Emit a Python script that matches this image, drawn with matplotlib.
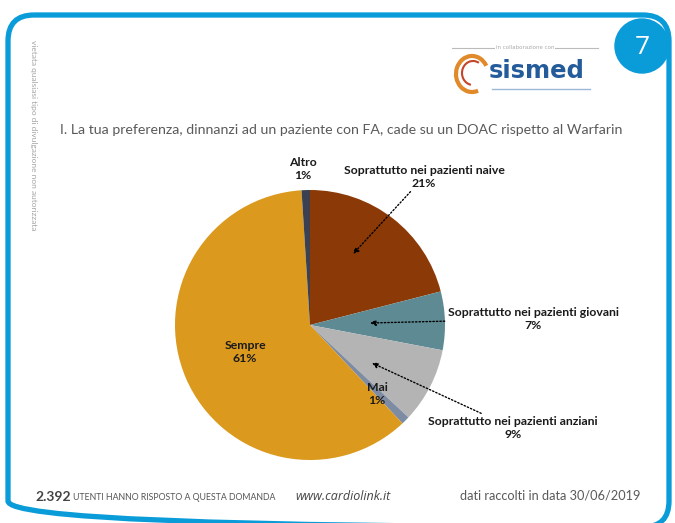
import numpy as np
import matplotlib.pyplot as plt
from matplotlib.patches import FancyBboxPatch, Circle, Arc

# survey answers, clockwise from 12 o'clock
labels = ["Soprattutto nei pazienti naive", "Soprattutto nei pazienti giovani",
          "Soprattutto nei pazienti anziani", "Mai", "Sempre", "Altro"]
values = [21, 7, 9, 1, 61, 1]
colors = ["#8B3907", "#5E8A93", "#B4B4B4", "#7D8CA3", "#DB991D", "#3B4150"]

W, H = 675, 523
fig = plt.figure(figsize=(W / 100, H / 100), dpi=100)
bg = fig.add_axes([0, 0, 1, 1])
bg.set_xlim(0, W)
bg.set_ylim(H, 0)
bg.axis("off")

blue = "#0A9BD9"
# slide frame
frame = FancyBboxPatch((8, 15), 661, 512, boxstyle="round,pad=0,rounding_size=26",
                       fill=False, ec=blue, lw=3.8)
bg.add_patch(frame)
bg.add_patch(Circle((642, 46), 27, color=blue, zorder=3))
bg.text(642, 47, "7", color="white", fontsize=19, ha="center", va="center",
        family="Open Sans", zorder=4)

# vertical disclaimer
bg.text(33, 40, "vietata qualsiasi tipo di divulgazione non autorizzata", rotation=-90,
        fontsize=6, color="#a5a5a5", ha="center", va="top", family="Lato")

# sismed logo
bg.plot([452, 598], [48, 48], color="#bbbbbb", lw=0.8)
bg.text(525, 47.5, "in collaborazione con", fontsize=4, color="#aaaaaa", ha="center",
        va="center", family="DejaVu Sans", bbox=dict(fc="white", ec="none", pad=0.3))
bg.add_patch(Arc((472, 74), 32, 36, theta1=70, theta2=330, color="#E08A2A", lw=3))
bg.add_patch(Arc((473, 73), 22, 24, theta1=100, theta2=300, color="#C4452A", lw=1.5))
bg.text(489, 71, "sismed", fontsize=17.5, fontweight="bold", color="#245B9A",
        ha="left", va="center", family="DejaVu Sans")
bg.plot([492, 590], [89, 89], color="#9DB8D6", lw=1)

# question
bg.text(60, 130, "I. La tua preferenza, dinnanzi ad un paziente con FA, cade su un DOAC rispetto al Warfarin",
        fontsize=10.2, color="#5a5a5a", ha="left", va="center", family="Lato")

# footer
bg.text(35, 497, "2.392", fontsize=10, fontweight="bold", color="#444444", va="center", family="Lato")
bg.text(73, 498, "UTENTI HANNO RISPOSTO A QUESTA DOMANDA", fontsize=6.3, color="#555555",
        va="center", family="Lato")
bg.text(295, 496, "www.cardiolink.it", fontsize=9, style="italic", color="#444444",
        va="center", family="Open Sans")
bg.text(460, 496, "dati raccolti in data 30/06/2019", fontsize=9.2, color="#5a5a5a",
        va="center", family="Lato")

# pie
cx, cy, r = 310, 325, 135
ax = fig.add_axes([(cx - r) / W, (H - cy - r) / H, 2 * r / W, 2 * r / H])
ax.pie(values, colors=colors, startangle=90, counterclock=False, radius=1,
       wedgeprops=dict(linewidth=0))
ax.set_xlim(-1, 1)
ax.set_ylim(-1, 1)
ax.set_aspect("equal")


def px(x, y):
    return ((x - cx) / r, (cy - y) / r)


lab_kw = dict(fontsize=8.8, fontweight="bold", color="#1a1a1a", ha="center",
              va="center", family="Lato", linespacing=1.2)
arrow = dict(arrowstyle="-|>", linestyle=(0, (1, 1.5)), color="black", lw=1,
             mutation_scale=8, shrinkA=0, shrinkB=0)

# labels with leader arrows
ax.annotate(f"{labels[0]}\n{values[0]}%", xy=px(353, 254), xytext=px(424, 177),
            arrowprops=arrow, annotation_clip=False, **lab_kw)
ax.annotate(f"{labels[1]}\n{values[1]}%", xy=px(370, 323), xytext=px(533, 319),
            arrowprops=arrow, annotation_clip=False, **lab_kw)
ax.annotate(f"{labels[2]}\n{values[2]}%", xy=px(372, 363), xytext=px(513, 428),
            arrowprops=arrow, annotation_clip=False, **lab_kw)

# start the leaders right at the text edges
ax.texts[-3].arrow_patch.set_positions(px(415, 192), px(353, 254))
ax.texts[-2].arrow_patch.set_positions(px(446, 312), px(370, 323))
ax.texts[-1].arrow_patch.set_positions(px(503, 416), px(372, 363))

ax.text(*px(377, 394), f"{labels[3]}\n{values[3]}%", **lab_kw)
ax.text(*px(245, 352), f"{labels[4]}\n{values[4]}%", **lab_kw)
ax.text(*px(303, 169), f"{labels[5]}\n{values[5]}%", clip_on=False, **lab_kw)

fig.savefig("out.png", dpi=100)
